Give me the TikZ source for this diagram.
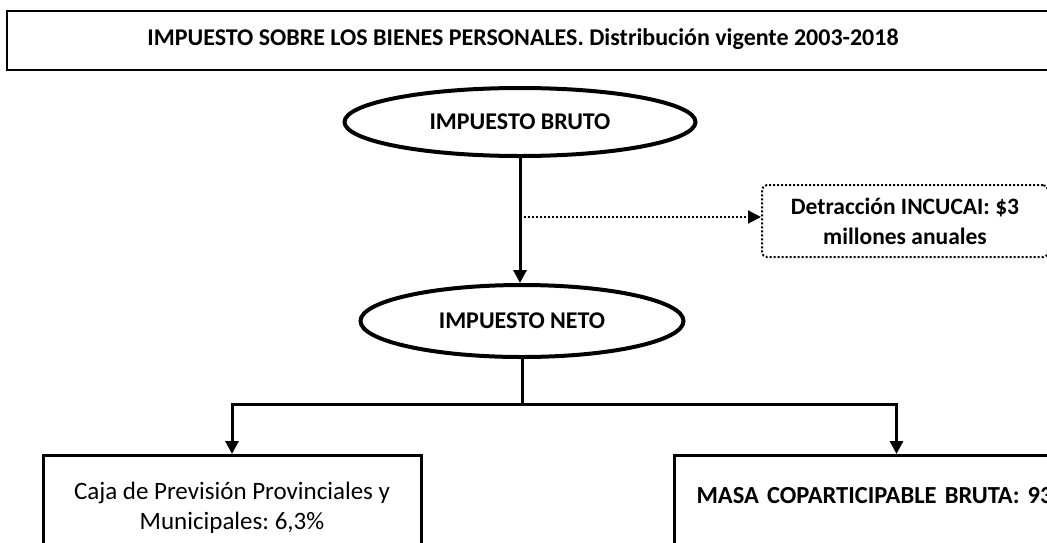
\documentclass[tikz,border=0pt]{standalone}
\usepackage{fontspec}
\setmainfont{Carlito}
\usetikzlibrary{arrows.meta, shapes.geometric}
\frenchspacing

\begin{document}
\begin{tikzpicture}[x=1pt,y=-1pt,>={Triangle[width=13pt,length=13pt]},
  font=\fontsize{24}{30}\selectfont,
  oval/.style={ellipse, draw, line width=4pt, font=\fontsize{24}{30}\selectfont\bfseries},
  box/.style={rectangle, draw, line width=3pt, align=center},
  link/.style={line width=3pt}]

\useasboundingbox (0,0) rectangle (1047,542);

% define the title
\draw[line width=2pt] (7,11) rectangle (1090,70);
\node (title) at (523,39) {\bfseries IMPUESTO SOBRE LOS BIENES PERSONALES. Distribución vigente 2003-2018};

% define the states
\node[oval, minimum width=351, minimum height=68] (bruto) at (520,122) {IMPUESTO BRUTO};
\node[oval, minimum width=323, minimum height=72] (neto) at (522,321) {IMPUESTO NETO};
\node[box, line width=2pt, dotted, rounded corners=5pt, minimum width=286, minimum height=72,
  font=\fontsize{23.5}{30}\selectfont\bfseries] (incucai) at (905,221)
  {Detracción INCUCAI: \$3\\millones anuales};
\node[box, anchor=north, minimum width=378, minimum height=104,
  font=\fontsize{25}{30}\selectfont] (caja) at (232,454)
  {Caja de Previsión Provinciales y\\Municipales: 6,3\%};
\node[box, anchor=north west, minimum width=444, minimum height=120, align=left,
  text width=400pt, inner xsep=22pt, text height=16pt, text depth=40pt,
  font=\fontsize{24.5}{30}\selectfont\bfseries] (masa) at (673,454)
  {\mbox{MASA COPARTICIPABLE BRUTA: 93}};

% define the links
\coordinate (split) at (520,217);
\coordinate (fork) at (522,404);
\draw[link, ->] (bruto.south) -- (bruto.south |- neto.north);
\draw[line width=2pt, dotted, ->] (split) -- (split -| incucai.west);
\draw[link] (neto.south) -- (fork);
\draw[link, ->] (fork) -| (caja.north);
\draw[link, ->] (fork) -| (masa.north);

\end{tikzpicture}
\end{document}
